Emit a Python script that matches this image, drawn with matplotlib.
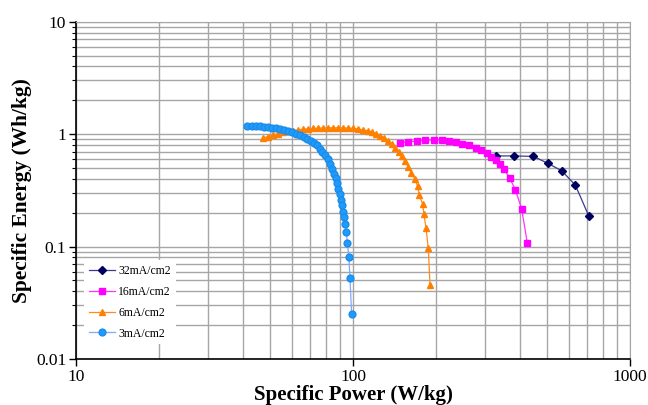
import matplotlib
matplotlib.use("Agg")
import matplotlib.pyplot as plt
from matplotlib.ticker import LogLocator, FixedLocator, FuncFormatter, NullFormatter

plt.rcParams["font.family"] = ["Liberation Serif", "DejaVu Serif"]

# Ragone data per discharge current density: specific power (W/kg), specific energy (Wh/kg)
labels = ["32mA/cm2", "16mA/cm2", "6mA/cm2", "3mA/cm2"]

power_32 = [328, 380, 448, 505, 567, 635, 710]
energy_32 = [0.64, 0.64, 0.634, 0.55, 0.472, 0.352, 0.187]

power_16 = [147.8, 158.6, 170.2, 182.7, 196.1, 209.0, 223.0, 235.4, 248.5, 262.3,
            278.0, 291.0, 304.7, 316.2, 329.6, 340.8, 350.9, 367.3, 386.0, 406.4, 425.8]
energy_16 = [0.839, 0.856, 0.868, 0.881, 0.890, 0.892, 0.877, 0.847, 0.819, 0.793,
             0.760, 0.722, 0.683, 0.632, 0.588, 0.542, 0.486, 0.411, 0.318, 0.216, 0.108]

power_6 = [47.3, 49.3, 51.4, 53.6, 55.9, 58.3, 60.7, 63.3, 66.0, 68.8, 71.7, 74.7,
           77.9, 81.2, 84.7, 88.3, 92.0, 95.9, 100.0, 104.3, 108.7, 113.3, 117.1, 121.1,
           125.2, 129.4, 133.8, 138.3, 142.3, 146.6, 150.3, 154.1, 158.0, 162.6, 167.4,
           171.0, 173.5, 178.5, 180.4, 183.4, 187.0, 189.7]
energy_6 = [0.923, 0.952, 0.982, 1.012, 1.037, 1.059, 1.076, 1.092, 1.103, 1.115, 1.124,
            1.131, 1.136, 1.138, 1.140, 1.140, 1.138, 1.133, 1.126, 1.110, 1.092, 1.070,
            1.044, 1.012, 0.972, 0.927, 0.877, 0.819, 0.760, 0.700, 0.639, 0.576, 0.515,
            0.451, 0.398, 0.345, 0.287, 0.237, 0.193, 0.147, 0.0964, 0.0455]

power_3 = [41.6, 43.2, 44.6, 46.2, 47.7, 49.3, 51.0, 52.7, 54.5, 56.3, 58.3, 60.2, 62.3,
           64.4, 66.6, 68.5, 70.5, 72.3, 74.1, 76.0, 77.6, 79.2, 80.9, 82.6, 84.0, 85.4,
           86.5, 87.6, 88.6, 89.6, 90.5, 91.3, 92.3, 93.0, 93.8, 94.7, 95.4, 96.7, 97.5, 98.9]
energy_3 = [1.181, 1.181, 1.178, 1.173, 1.166, 1.157, 1.145, 1.128, 1.110, 1.090, 1.066,
            1.040, 1.012, 0.982, 0.946, 0.912, 0.875, 0.837, 0.795, 0.745, 0.700, 0.652,
            0.601, 0.542, 0.494, 0.446, 0.407, 0.367, 0.328, 0.293, 0.262, 0.234, 0.204,
            0.183, 0.159, 0.134, 0.108, 0.0801, 0.0521, 0.0249]

fig = plt.figure(figsize=(6.48, 4.05), dpi=100)
ax = fig.add_axes([0.1173, 0.1136, 0.8549, 0.8328])

ax.plot(power_32, energy_32, color="#3a3a8c", lw=0.9, marker="D", ms=4.0,
        mfc="#00005e", mec="#00005e", label=labels[0])
ax.plot(power_16, energy_16, color="#ff33ff", lw=0.9, marker="s", ms=4.8,
        mfc="#ff00ff", mec="#ff00ff", label=labels[1])
ax.plot(power_6, energy_6, color="#ff8c1a", lw=0.9, marker="^", ms=5.0,
        mfc="#ff8000", mec="#ff8000", label=labels[2])
ax.plot(power_3, energy_3, color="#7fa8ff", lw=0.9, marker="o", ms=4.9,
        mfc="#1e9bff", mec="#1c8ce8", label=labels[3])

ax.set_xscale("log")
ax.set_yscale("log")
ax.set_xlim(10, 1000)
ax.set_ylim(0.01, 10)

fmt = FuncFormatter(lambda v, _: f"{v:g}")
ax.xaxis.set_major_locator(FixedLocator([10, 100, 1000]))
ax.yaxis.set_major_locator(FixedLocator([0.01, 0.1, 1, 10]))
ax.xaxis.set_major_formatter(fmt)
ax.yaxis.set_major_formatter(fmt)
ax.xaxis.set_minor_locator(LogLocator(base=10, subs=range(2, 10)))
ax.yaxis.set_minor_locator(LogLocator(base=10, subs=range(2, 10)))
ax.xaxis.set_minor_formatter(NullFormatter())
ax.yaxis.set_minor_formatter(NullFormatter())

ax.grid(True, which="both", color="#a6a6a6", lw=1.0)
ax.set_axisbelow(True)
ax.tick_params(which="major", direction="out", length=5, width=1.0, labelsize=12.5, pad=2)
ax.tick_params(axis="y", which="minor", direction="out", length=3, width=0.8)
ax.tick_params(axis="x", which="minor", length=0)

for side in ["top", "right"]:
    ax.spines[side].set_color("#a6a6a6")
for side in ["left", "bottom"]:
    ax.spines[side].set_color("black")
    ax.spines[side].set_linewidth(1.2)

ax.set_xlabel("Specific Power (W/kg)", fontsize=15, fontweight="bold", labelpad=0)
ax.set_ylabel("Specific Energy (Wh/kg)", fontsize=15.4, fontweight="bold", labelpad=3)

leg = ax.legend(loc="upper left", bbox_to_anchor=(0.004, 0.31), fontsize=8.5,
                frameon=True, fancybox=False, framealpha=1, edgecolor="none",
                facecolor="white", handlelength=2.2, handletextpad=0.3,
                labelspacing=0.75, borderpad=0.4)

fig.savefig("out.png", dpi=100)
